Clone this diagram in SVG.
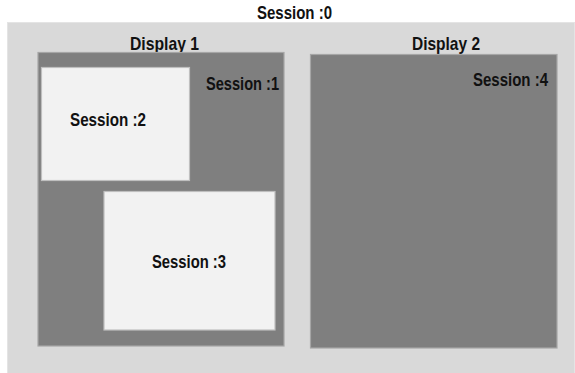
<svg xmlns="http://www.w3.org/2000/svg" width="575" height="373" viewBox="0 0 575 373">
<style>
text{font-family:"Liberation Sans Narrow","Liberation Sans",Arial,sans-serif;font-weight:bold;font-size:18.5px;fill:#111}
.outer{fill:#d9d9d9;stroke:#e4e4e4;stroke-width:1}
.disp{fill:#7f7f7f;stroke:#a6a6a6;stroke-width:1.2}
.win{fill:#f2f2f2;stroke:#bfbfbf;stroke-width:1.2}
</style>
<rect width="575" height="373" fill="#ffffff"/>
<g id="session0">
<rect class="outer" x="7.5" y="22.5" width="567" height="352"/>
<text x="257" y="19" textLength="75" lengthAdjust="spacingAndGlyphs">Session :0</text>
</g>
<g id="display1">
<text x="130" y="50" textLength="69" lengthAdjust="spacingAndGlyphs">Display 1</text>
</g>
<g id="session1">
<rect class="disp" x="38" y="52.5" width="246" height="293.5"/>
<text x="206" y="90" textLength="73" lengthAdjust="spacingAndGlyphs">Session :1</text>
</g>
<g id="session2">
<rect class="win" x="41.5" y="67.5" width="148" height="113"/>
<text x="70" y="126" textLength="76" lengthAdjust="spacingAndGlyphs">Session :2</text>
</g>
<g id="session3">
<rect class="win" x="104" y="191.5" width="171" height="138.5"/>
<text x="152" y="268" textLength="74" lengthAdjust="spacingAndGlyphs">Session :3</text>
</g>
<g id="display2">
<text x="412" y="50" textLength="68" lengthAdjust="spacingAndGlyphs">Display 2</text>
</g>
<g id="session4">
<rect class="disp" x="310.5" y="54.5" width="246.5" height="293.5"/>
<text x="473" y="86" textLength="75" lengthAdjust="spacingAndGlyphs">Session :4</text>
</g>
<g id="connectors"></g>
</svg>
